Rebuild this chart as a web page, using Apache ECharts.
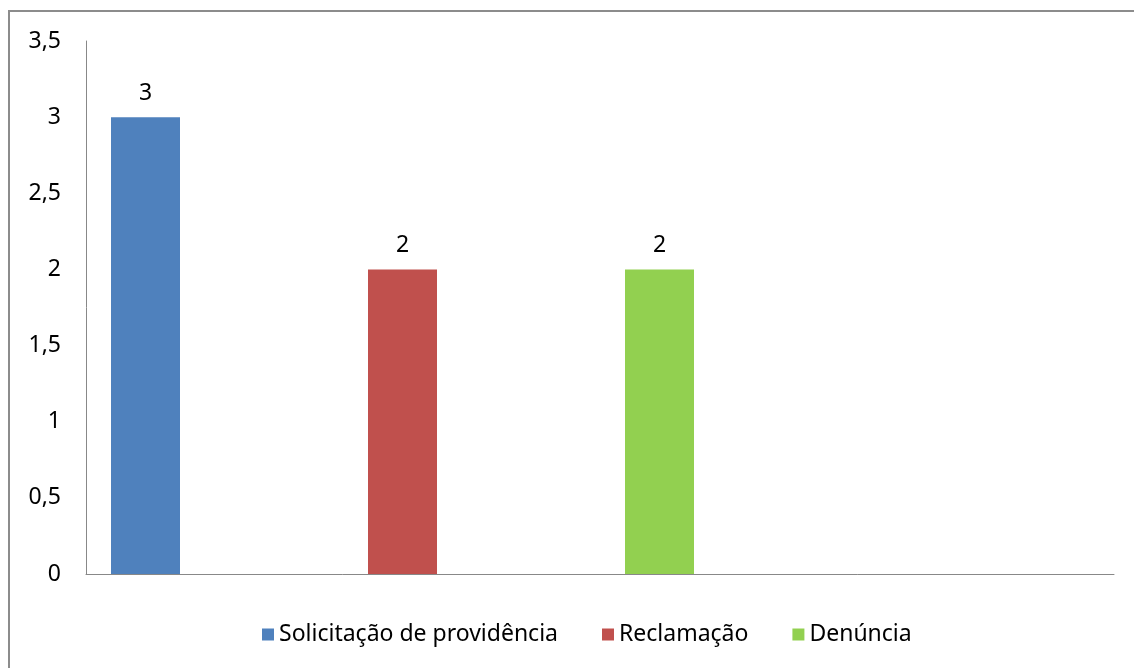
<!DOCTYPE html>
<html>
<head>
<meta charset="utf-8">
<script src="https://cdn.jsdelivr.net/npm/echarts@6/dist/echarts.min.js"></script>
<style>
  html, body { margin: 0; padding: 0; background: #fff; }
  #main { width: 1134px; height: 668px; }
</style>
</head>
<body>
<div id="main"></div>
<script>
// four slots on the x axis, the last one stays empty
var categories = ['1', '2', '3', '4'];
var seriesNames = ['Solicitação de providência', 'Reclamação', 'Denúncia'];
var solicitacao = [3, '-', '-', '-'];
var reclamacao = ['-', 2, '-', '-'];
var denuncia = ['-', '-', 2, '-'];
var yTicks = { min: 0, max: 3.5, step: 0.5 };

var colors = ['#4F81BD', '#C0504D', '#92D050'];
var font = 'Noto Sans, sans-serif';
var fontSize = 23;

var chart = echarts.init(document.getElementById('main'));

function barSeries(name, data, color) {
  return {
    name: name,
    type: 'bar',
    stack: 'main',
    data: data,
    barWidth: 69,
    itemStyle: { color: color },
    label: {
      show: true,
      position: 'top',
      distance: 12,
      color: '#000',
      fontFamily: font,
      fontSize: fontSize
    }
  };
}

chart.setOption({
  animation: false,
  textStyle: { fontFamily: font },
  graphic: [{
    type: 'rect',
    shape: { x: 9, y: 11, width: 1200, height: 800 },
    style: { fill: 'none', stroke: '#8c8c8c', lineWidth: 2 },
    silent: true
  }],
  grid: { left: 86, right: 20, top: 41, bottom: 94, containLabel: false },
  legend: {
    data: seriesNames,
    bottom: 17,
    left: 257,
    icon: 'rect',
    itemWidth: 12,
    itemHeight: 12,
    itemGap: 44,
    textStyle: { color: '#000', fontSize: fontSize, fontFamily: font }
  },
  xAxis: {
    type: 'category',
    data: categories,
    axisLine: { lineStyle: { color: '#888', width: 1 } },
    axisTick: { show: false },
    axisLabel: { show: false }
  },
  yAxis: {
    type: 'value',
    min: yTicks.min,
    max: yTicks.max,
    interval: yTicks.step,
    axisLine: { show: true, lineStyle: { color: '#888', width: 1 } },
    axisTick: { show: false },
    splitLine: { show: false },
    axisLabel: {
      margin: 25,
      color: '#000',
      fontSize: fontSize,
      fontFamily: font,
      formatter: function (v) { return String(v).replace('.', ','); }
    }
  },
  series: [
    barSeries(seriesNames[0], solicitacao, colors[0]),
    barSeries(seriesNames[1], reclamacao, colors[1]),
    barSeries(seriesNames[2], denuncia, colors[2]),
    // empty slots so the bars sit where they do in the reference
    { name: 'pad1', type: 'bar', stack: 'pad1', data: [], barWidth: 69 },
    { name: 'pad2', type: 'bar', stack: 'pad2', data: [], barWidth: 69 }
  ],
  barGap: 0
});
</script>
</body>
</html>
